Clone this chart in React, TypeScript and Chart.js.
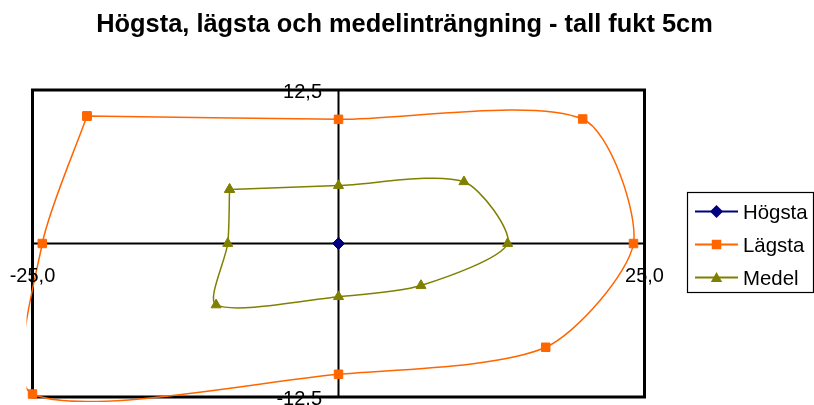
import React, { useEffect, useRef } from "react";
import { Chart, registerables } from "chart.js";

Chart.register(...registerables);

// ---- data ----
const titleText = "Högsta, lägsta och medelinträngning - tall fukt 5cm";
const seriesNames = ["Högsta", "Lägsta", "Medel"];
// points go round the sample: NV, N, NO, O, SO, S, SV, V, back to NV
const hogstaX = [0, 0, 0, 0, 0, 0, 0, 0, 0];
const hogstaY = [0, 0, 0, 0, 0, 0, 0, 0, 0];
const lagstaX = [-20.55, 0, 19.95, 24.1, 16.93, 0, -25.0, -24.2, -20.55];
const lagstaY = [10.38, 10.11, 10.14, 0, -8.45, -10.65, -12.26, 0, 10.38];
const medelX = [-8.9, 0, 10.25, 13.82, 6.74, 0, -10.0, -9.05, -8.9];
const medelY = [4.4, 4.72, 5.03, 0, -3.42, -4.33, -5.0, 0, 4.4];
const xTickValues = [-25, 25];
const yTickValues = [-12.5, 12.5];

const FONT = '"Liberation Sans", Arial, sans-serif';
const COLORS = ["#000080", "#FF6600", "#808000"];
const STYLES = ["rectRot", "rect", "triangle"];

const fmt = (v: number) => v.toFixed(1).replace(".", ",");
const pts = (xs: number[], ys: number[]) => xs.map((x, i) => ({ x, y: ys[i] }));

function drawMarker(ctx: CanvasRenderingContext2D, style: string, x: number, y: number, color: string) {
  ctx.save();
  ctx.fillStyle = color;
  ctx.beginPath();
  if (style === "rect") {
    ctx.rect(x - 4.75, y - 4.75, 9.5, 9.5);
  } else if (style === "rectRot") {
    ctx.moveTo(x, y - 6.5);
    ctx.lineTo(x + 6.5, y);
    ctx.lineTo(x, y + 6.5);
    ctx.lineTo(x - 6.5, y);
    ctx.closePath();
  } else {
    ctx.moveTo(x, y - 5.5);
    ctx.lineTo(x + 5.7, y + 4.5);
    ctx.lineTo(x - 5.7, y + 4.5);
    ctx.closePath();
  }
  ctx.fill();
  ctx.restore();
}

const excelFrame = {
  id: "excelFrame",
  beforeDatasetsDraw(chart: any) {
    const { ctx, chartArea: a, scales } = chart;
    const x0 = scales.x.getPixelForValue(0);
    const y0 = scales.y.getPixelForValue(0);
    ctx.save();
    ctx.strokeStyle = "#000";
    ctx.lineWidth = 2;
    ctx.beginPath();
    ctx.moveTo(a.left, y0);
    ctx.lineTo(a.right, y0);
    ctx.moveTo(x0, a.top);
    ctx.lineTo(x0, a.bottom);
    ctx.stroke();
    ctx.lineWidth = 3;
    ctx.strokeRect(a.left, a.top, a.right - a.left, a.bottom - a.top);
    ctx.restore();
  },
  afterDraw(chart: any) {
    const { ctx, scales } = chart;
    const x0 = scales.x.getPixelForValue(0);
    const y0 = scales.y.getPixelForValue(0);
    ctx.save();
    // title
    ctx.fillStyle = "#000";
    ctx.font = `bold 25.4px ${FONT}`;
    ctx.textAlign = "center";
    ctx.textBaseline = "alphabetic";
    ctx.fillText(titleText, 404.5, 32);
    // tick labels
    ctx.font = `20px ${FONT}`;
    xTickValues.forEach((v) => {
      ctx.textAlign = "center";
      ctx.fillText(fmt(v), scales.x.getPixelForValue(v), y0 + 38.5);
    });
    yTickValues.forEach((v) => {
      ctx.textAlign = "right";
      ctx.fillText(fmt(v), x0 - 16.5, scales.y.getPixelForValue(v) + 8);
    });
    // legend
    ctx.strokeStyle = "#000";
    ctx.lineWidth = 1.2;
    ctx.strokeRect(687.5, 192.5, 126, 100);
    const rows = [211.5, 244.5, 277.5];
    ctx.font = `20.4px ${FONT}`;
    chart.data.datasets.forEach((ds: any, i: number) => {
      const ry = rows[i];
      ctx.strokeStyle = ds.borderColor;
      ctx.lineWidth = 2;
      ctx.beginPath();
      ctx.moveTo(695, ry);
      ctx.lineTo(738, ry);
      ctx.stroke();
      drawMarker(ctx, ds.pointStyle, 716.5, ry, ds.borderColor);
      ctx.fillStyle = "#000";
      ctx.textAlign = "left";
      ctx.fillText(ds.label, 743, ry + 7);
    });
    ctx.restore();
  },
};

function makeDataset(i: number, xs: number[], ys: number[]) {
  return {
    label: seriesNames[i],
    data: pts(xs, ys),
    showLine: true,
    borderColor: COLORS[i],
    backgroundColor: COLORS[i],
    pointBackgroundColor: COLORS[i],
    pointBorderColor: COLORS[i],
    pointStyle: STYLES[i],
    pointRadius: i === 1 ? 6 : 5.8,
    pointBorderWidth: 1,
    borderWidth: 1.5,
    tension: 0.26,
    capBezierPoints: false,
    clip: { left: 6, top: 6, right: 6, bottom: 5 },
  };
}

export default function App() {
  const ref = useRef<HTMLCanvasElement | null>(null);
  useEffect(() => {
    document.body.style.margin = "0";
    const canvas = ref.current;
    if (!canvas) return;
    const chart = new Chart(canvas, {
      type: "line",
      data: {
        datasets: [
          makeDataset(0, hogstaX, hogstaY),
          makeDataset(1, lagstaX, lagstaY),
          makeDataset(2, medelX, medelY),
        ] as any,
      },
      options: {
        animation: false,
        responsive: false,
        devicePixelRatio: 1,
        events: [],
        layout: { padding: { left: 32.5, right: 169.5, top: 90, bottom: 8 } },
        elements: { line: { capBezierPoints: false } },
        scales: {
          x: { type: "linear", min: -25, max: 25, display: false },
          y: { type: "linear", min: -12.5, max: 12.5, display: false },
        },
        plugins: {
          legend: { display: false },
          title: { display: false },
          tooltip: { enabled: false },
        },
      } as any,
      plugins: [excelFrame],
    });
    return () => chart.destroy();
  }, []);
  return (
    <div style={{ width: 814, height: 405, background: "#fff" }}>
      <canvas ref={ref} width={814} height={405} style={{ display: "block" }} />
    </div>
  );
}
